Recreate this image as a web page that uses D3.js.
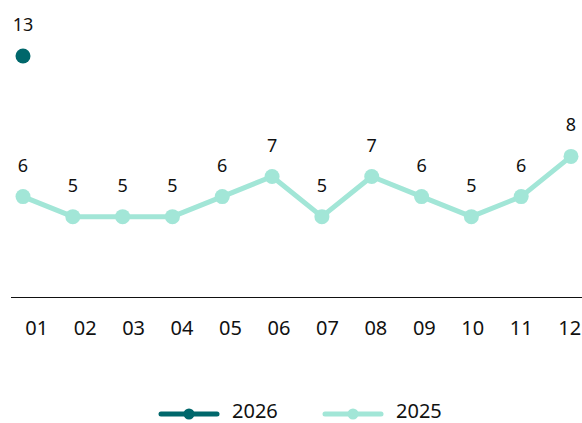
<!DOCTYPE html>
<head>
  <meta charset="utf-8">
  <script src="https://d3js.org/d3.v7.min.js"></script>
  <style>
    body { margin: 0; background: #fff; }
    text { font-family: "Noto Sans", sans-serif; fill: #111; }
  </style>
</head>
<body>
<script>
  var months = ["01","02","03","04","05","06","07","08","09","10","11","12"];
  var values2025 = [6,5,5,5,6,7,5,7,6,5,6,8];
  var values2026 = [13];
  var seriesNames = ["2026", "2025"];
  var colors = {"2026": "#00676b", "2025": "#a2e6d7"};

  var width = 582, height = 423;

  var svg = d3.select("body").append("svg")
      .attr("width", width)
      .attr("height", height);

  var x = d3.scalePoint()
      .domain(months)
      .range([23, 571]);

  // tick labels sit on a slightly narrower grid than the points
  var xLabel = d3.scalePoint()
      .domain(months)
      .range([36.7, 569.7]);

  var y = d3.scaleLinear()
      .domain([1, 13])
      .range([297, 56]);

  // baseline
  svg.append("line")
      .attr("x1", 11).attr("x2", 582)
      .attr("y1", 297.5).attr("y2", 297.5)
      .attr("stroke", "#111")
      .attr("stroke-width", 1);

  // month labels
  svg.append("g").selectAll("text")
    .data(months)
    .enter().append("text")
      .attr("x", function(d) { return xLabel(d); })
      .attr("y", 335)
      .attr("text-anchor", "middle")
      .style("font-size", "20px")
      .text(function(d) { return d; });

  var series = [
    {name: "2025", values: values2025},
    {name: "2026", values: values2026}
  ];

  var line = d3.line()
      .x(function(d, i) { return x(months[i]); })
      .y(function(d) { return y(d); });

  series.forEach(function(s) {
    var g = svg.append("g");
    g.append("path")
      .datum(s.values)
      .attr("fill", "none")
      .attr("stroke", colors[s.name])
      .attr("stroke-width", 5)
      .attr("stroke-linejoin", "round")
      .attr("d", line);

    g.selectAll("circle")
      .data(s.values)
      .enter().append("circle")
        .attr("cx", function(d, i) { return x(months[i]); })
        .attr("cy", function(d) { return y(d); })
        .attr("r", 7.5)
        .attr("fill", colors[s.name]);

    g.selectAll("text")
      .data(s.values)
      .enter().append("text")
        .attr("x", function(d, i) { return x(months[i]); })
        .attr("y", function(d) { return y(d) - 25; })
        .attr("text-anchor", "middle")
        .style("font-size", "18px")
        .text(function(d) { return d; });
  });

  // legend
  var legendX = [161, 325];
  var legend = svg.append("g").selectAll("g")
    .data(seriesNames)
    .enter().append("g")
      .attr("transform", function(d, i) { return "translate(" + legendX[i] + ",414)"; });

  legend.append("line")
      .attr("x1", 0).attr("x2", 56)
      .attr("stroke", function(d) { return colors[d]; })
      .attr("stroke-width", 5)
      .attr("stroke-linecap", "round");

  legend.append("circle")
      .attr("cx", 28)
      .attr("r", 5.5)
      .attr("fill", function(d) { return colors[d]; });

  legend.append("text")
      .attr("x", 71)
      .attr("y", 4)
      .style("font-size", "20px")
      .text(function(d) { return d; });
</script>
</body>
